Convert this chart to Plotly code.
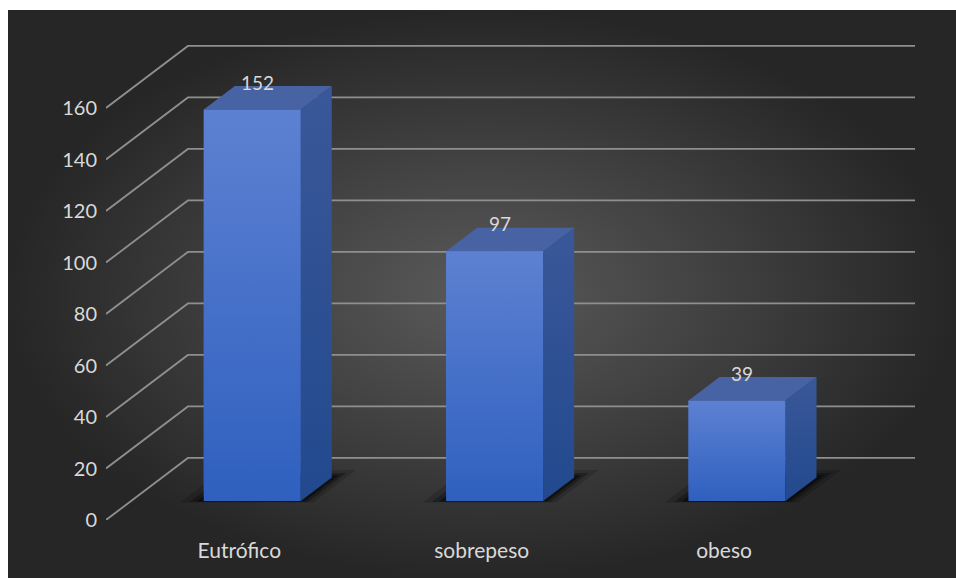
import plotly.graph_objects as go

# ---------------- data ----------------
categories = ["Eutrófico", "sobrepeso", "obeso"]
values = [152, 97, 39]
y_ticks = [0, 20, 40, 60, 80, 100, 120, 140, 160]

# ---------------- geometry / style constants ----------------
W, H = 956, 578
PLOT_L, PLOT_R, PLOT_B, PLOT_T = 106, 915, 520, 30   # front-plane plot box (px)
PX_PER_UNIT_Y = 2.575
DX, DY = 0.338, 24.1        # full depth offset in data units (x: categories, y: values)
F1, F2 = 0.306, 0.685       # depth of bar front / back faces
BAR_W = 0.40
LABEL_SHIFT = 0.05
TEXT_COLOR = "#d9d9d9"
FONT = "Lato"
GRID_COLOR = "#8f8f8f"

FRONT_BOTTOM, FRONT_TOP = "#2f60bf", "#5d81d2"
SIDE_BOTTOM, SIDE_TOP = "#22498e", "#3a5899"
TOP_COLOR = "#4863a3"

fig = go.Figure()

# ---------- background (radial gradient) on full-page axes ----------
fig.add_trace(go.Scatter(
    x=[8, W, W, 8, 8], y=[10, 10, H, H, 10], mode="lines", line=dict(width=0),
    fill="toself",
    fillgradient=dict(type="radial", colorscale=[[0, "#5a5a5a"], [0.55, "#3e3e3e"], [1, "#262626"]]),
    xaxis="x", yaxis="y", hoverinfo="skip", showlegend=False))

# ---------- grid: diagonal side-wall lines + back-wall horizontal lines ----------
gx, gy = [], []
x_left = -0.5
x_right = len(categories) - 0.5
for v in y_ticks:
    gx += [x_left, x_left + DX, x_right + DX, None]
    gy += [v, v + DY, v + DY, None]
fig.add_trace(go.Scatter(x=gx, y=gy, mode="lines", line=dict(color=GRID_COLOR, width=1.8),
                         xaxis="x2", yaxis="y2", hoverinfo="skip", showlegend=False))

# ---------- floor shadows ----------
for grow, alpha in [(0.10, 0.16), (0.06, 0.28), (0.03, 0.45)]:
    for i, v in enumerate(values):
        xl = i - BAR_W / 2 - grow * 0.9
        xr = i + BAR_W / 2 + grow * 0.6
        d1 = F1 - grow * 0.25
        d2 = F2 + grow * 1.2
        sx = [xl + d1 * DX, xr + d1 * DX, xr + d2 * DX, xl + d2 * DX, xl + d1 * DX]
        sy = [d1 * DY, d1 * DY, d2 * DY, d2 * DY, d1 * DY]
        fig.add_trace(go.Scatter(x=sx, y=sy, mode="lines", line=dict(width=0), fill="toself",
                                 fillcolor=f"rgba(0,0,0,{alpha})", xaxis="x2", yaxis="y2",
                                 hoverinfo="skip", showlegend=False))

# ---------- bars: front faces ----------
fig.add_trace(go.Bar(
    x=[i + F1 * DX for i in range(len(values))], y=values, base=[F1 * DY] * len(values),
    width=BAR_W, marker=dict(color="#4372cb", line=dict(width=0)),
    xaxis="x2", yaxis="y2", hoverinfo="skip", showlegend=False))

for i, v in enumerate(values):
    xl, xr = i - BAR_W / 2, i + BAR_W / 2
    # front face gradient
    fig.add_trace(go.Scatter(
        x=[xl + F1 * DX, xr + F1 * DX, xr + F1 * DX, xl + F1 * DX, xl + F1 * DX],
        y=[F1 * DY, F1 * DY, v + F1 * DY, v + F1 * DY, F1 * DY],
        mode="lines", line=dict(width=0), fill="toself",
        fillgradient=dict(type="vertical", colorscale=[[0, FRONT_BOTTOM], [1, FRONT_TOP]]),
        xaxis="x2", yaxis="y2", hoverinfo="skip", showlegend=False))
    # side face
    fig.add_trace(go.Scatter(
        x=[xr + F1 * DX, xr + F2 * DX, xr + F2 * DX, xr + F1 * DX, xr + F1 * DX],
        y=[F1 * DY, F2 * DY, v + F2 * DY, v + F1 * DY, F1 * DY],
        mode="lines", line=dict(width=0), fill="toself",
        fillgradient=dict(type="vertical", colorscale=[[0, SIDE_BOTTOM], [1, SIDE_TOP]]),
        xaxis="x2", yaxis="y2", hoverinfo="skip", showlegend=False))
    # top face
    fig.add_trace(go.Scatter(
        x=[xl + F1 * DX, xr + F1 * DX, xr + F2 * DX, xl + F2 * DX, xl + F1 * DX],
        y=[v + F1 * DY, v + F1 * DY, v + F2 * DY, v + F2 * DY, v + F1 * DY],
        mode="lines", line=dict(width=0), fill="toself", fillcolor=TOP_COLOR,
        xaxis="x2", yaxis="y2", hoverinfo="skip", showlegend=False))
    # value label
    fig.add_annotation(x=i + F1 * DX, y=v + F2 * DY, xref="x2", yref="y2", text=str(v),
                       showarrow=False, xshift=5, yshift=4, yanchor="middle",
                       font=dict(family=FONT, size=19, color=TEXT_COLOR))

fig.update_layout(
    width=W, height=H, autosize=False,
    margin=dict(l=0, r=0, t=0, b=0, pad=0, autoexpand=False),
    paper_bgcolor="white", plot_bgcolor="rgba(0,0,0,0)",
    showlegend=False,
    xaxis=dict(domain=[0, 1], range=[0, W], visible=False, fixedrange=True, automargin=False),
    yaxis=dict(domain=[0, 1], range=[H, 0], visible=False, fixedrange=True, automargin=False),
    xaxis2=dict(domain=[PLOT_L / W, PLOT_R / W], range=[x_left, x_right + DX], anchor="y2",
                tickvals=[i + LABEL_SHIFT for i in range(len(categories))], ticktext=categories,
                showgrid=False, zeroline=False, showline=False, ticks="",
                ticklabelstandoff=16, tickfont=dict(family=FONT, size=21, color=TEXT_COLOR),
                fixedrange=True, automargin=False),
    yaxis2=dict(domain=[(H - PLOT_B) / H, (H - PLOT_T) / H],
                range=[0, (PLOT_B - PLOT_T) / PX_PER_UNIT_Y], anchor="x2",
                tickvals=y_ticks, ticktext=[str(t) for t in y_ticks],
                showgrid=False, zeroline=False, showline=False, ticks="",
                ticklabelstandoff=8, tickfont=dict(family=FONT, size=20, color=TEXT_COLOR),
                fixedrange=True, automargin=False),
)

fig.write_html("out.html")
